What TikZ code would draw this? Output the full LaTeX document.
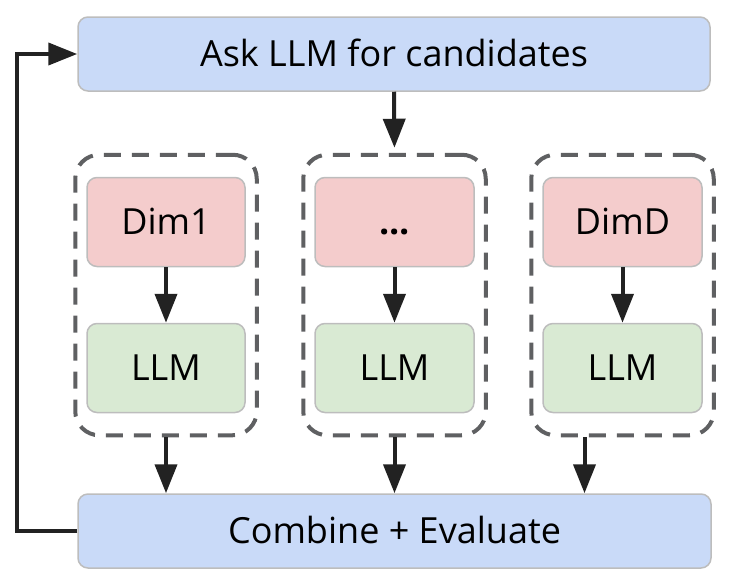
\documentclass[tikz,border=0pt]{standalone}
\usepackage{fontspec}
\setsansfont{Open Sans}
\usetikzlibrary{arrows.meta,positioning,fit}
\definecolor{ink}{HTML}{222222}
\definecolor{muted}{HTML}{5F6062}
\definecolor{line}{HTML}{BDBDBD}
\definecolor{blue}{HTML}{C9DAF8}
\definecolor{red}{HTML}{F4CCCC}
\definecolor{green}{HTML}{D9EAD3}
\tikzset{
  font=\sffamily\fontsize{36}{42}\selectfont,
  box/.style={rounded corners=10pt, draw=line, line width=1.5pt, fill=#1, align=center, inner sep=0pt, text height=25pt, text depth=0pt},
  group/.style={rounded corners=24pt, draw=muted, line width=4pt, dash pattern=on 17pt off 11pt, inner xsep=11pt, inner ysep=22pt},
  arrow/.style={-{Triangle[length=29pt,width=22pt]}, line width=4pt, draw=ink}
}
\begin{document}
\begin{tikzpicture}[x=1pt,y=1pt]
\useasboundingbox (0,0) rectangle (734,-582);

% Top and bottom
\node[box=blue, minimum width=632pt, minimum height=74pt] (ask) at (394,-54) {Ask LLM for candidates};
\node[box=blue, minimum width=633pt, minimum height=74pt] (combine) at (394.5,-531) {Combine + Evaluate};

% Dimensions
\node[box=red, minimum width=158pt, minimum height=89pt] (dim1) at (166,-222) {Dim1};
\node[box=red, minimum width=159pt, minimum height=89pt] (dimdots) at (394.5,-222) {\textbf{...}};
\node[box=red, minimum width=159pt, minimum height=89pt] (dimD) at (622.5,-222) {DimD};
\node[box=green, minimum width=158pt, minimum height=89pt] (llm1) at (166,-368) {LLM};
\node[box=green, minimum width=159pt, minimum height=89pt] (llmdots) at (394.5,-368) {LLM};
\node[box=green, minimum width=159pt, minimum height=89pt] (llmD) at (622.5,-368) {LLM};

\node[group, fit=(dim1)(llm1)] (grp1) {};
\node[group, fit=(dimdots)(llmdots)] (grp2) {};
\node[group, fit=(dimD)(llmD)] (grp3) {};

\draw[arrow] (dim1) -- (llm1);
\draw[arrow] (dimdots) -- (llmdots);
\draw[arrow] (dimD) -- (llmD);

% Flow
\draw[arrow, shorten >=5pt] (ask.south) -- (grp2.north);
\draw[arrow] (grp1.south) -- (combine.north -| grp1.south);
\draw[arrow] (grp2.south) -- (combine.north -| grp2.south);
\draw[arrow] ([xshift=-38pt]grp3.south) -- ([xshift=-38pt]grp3.south |- combine.north);
\draw[arrow] (combine.west) -- ++(-60,0) |- (ask.west);

\end{tikzpicture}
\end{document}
